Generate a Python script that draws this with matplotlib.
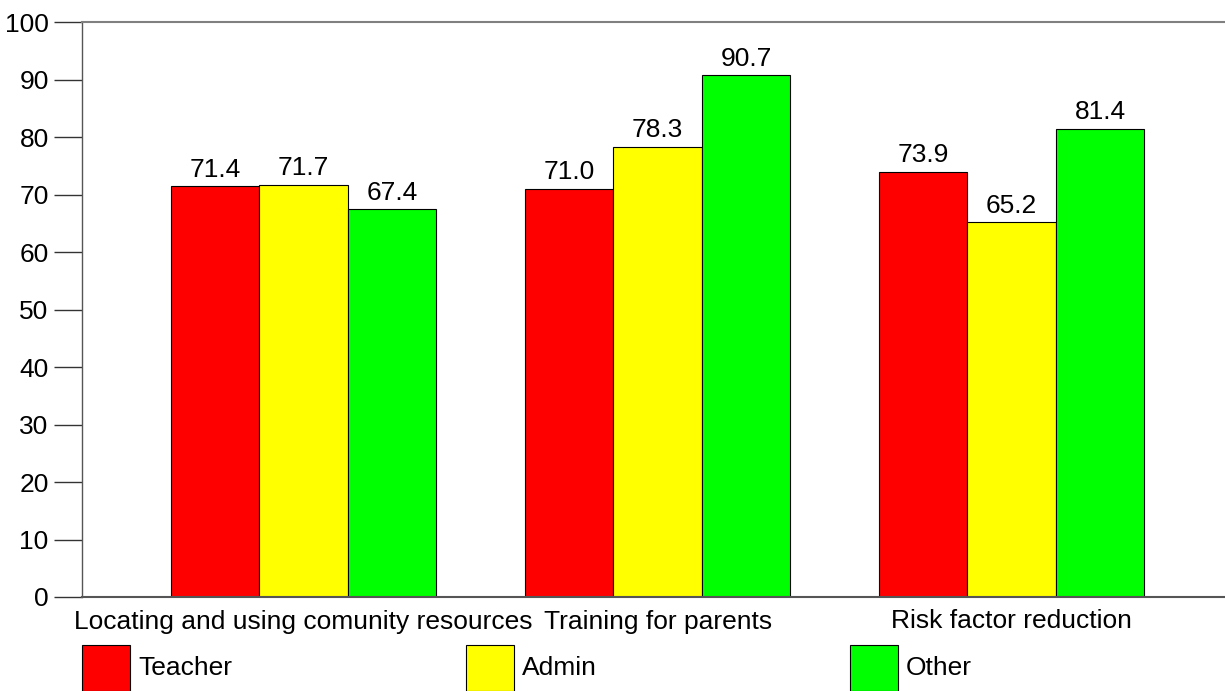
import numpy as np
import matplotlib.pyplot as plt
from matplotlib.patches import Rectangle

# === Data ===
categories = ["Locating and using comunity resources", "Training for parents", "Risk factor reduction"]
series = ["Teacher", "Admin", "Other"]
teacher = [71.4, 71.0, 73.9]
admin = [71.7, 78.3, 65.2]
other = [67.4, 90.7, 81.4]
colors = ["#ff0000", "#ffff00", "#00ff00"]
yticks = list(range(0, 101, 10))

plt.rcParams['font.family'] = ['Liberation Sans', 'DejaVu Sans']
FS = 19

W, H = 1225, 691
fig = plt.figure(figsize=(W / 100, H / 100), dpi=100)
ax = fig.add_axes([82 / W, 1 - 597 / H, (W - 82) / W, (597 - 22) / H])

x = np.arange(len(categories))
bw = 0.25
for k, (vals, c) in enumerate(zip([teacher, admin, other], colors)):
    pos = x + (k - 1) * bw
    bars = ax.bar(pos, vals, bw, color=c, edgecolor="black", linewidth=0.8, zorder=2)
    for b, v in zip(bars, vals):
        ax.text(b.get_x() + b.get_width() / 2, v + 0.8, f"{v:.1f}",
                ha="center", va="bottom", fontsize=FS)

ax.set_xlim(-0.626, 2.603)
ax.set_ylim(0, 100)
ax.set_yticks(yticks)
ax.set_yticklabels([str(t) for t in yticks], fontsize=FS)
ax.tick_params(axis="y", length=20, width=1, color="#333333", pad=4)
ax.set_xticks(x)
ax.set_xticklabels(categories, fontsize=FS)
ax.tick_params(axis="x", length=0, pad=9)

ax.spines["right"].set_visible(False)
ax.spines["top"].set_color("#808080")
ax.spines["top"].set_linewidth(1.5)
ax.spines["bottom"].set_color("#555555")
ax.spines["bottom"].set_linewidth(1.5)
ax.spines["left"].set_color("#555555")
ax.spines["left"].set_linewidth(1.0)

# === Legend row ===
leg_x0 = 82
leg_step = 384
for k, (name, c) in enumerate(zip(series, colors)):
    lx = leg_x0 + k * leg_step
    fig.add_artist(Rectangle((lx / W, 0), 48 / W, (H - 645) / H,
                             transform=fig.transFigure, facecolor=c,
                             edgecolor="black", linewidth=0.8))
    fig.text((lx + 56) / W, 1 - 668 / H, name, fontsize=FS, va="center", ha="left")

fig.savefig("out.png", dpi=100)
